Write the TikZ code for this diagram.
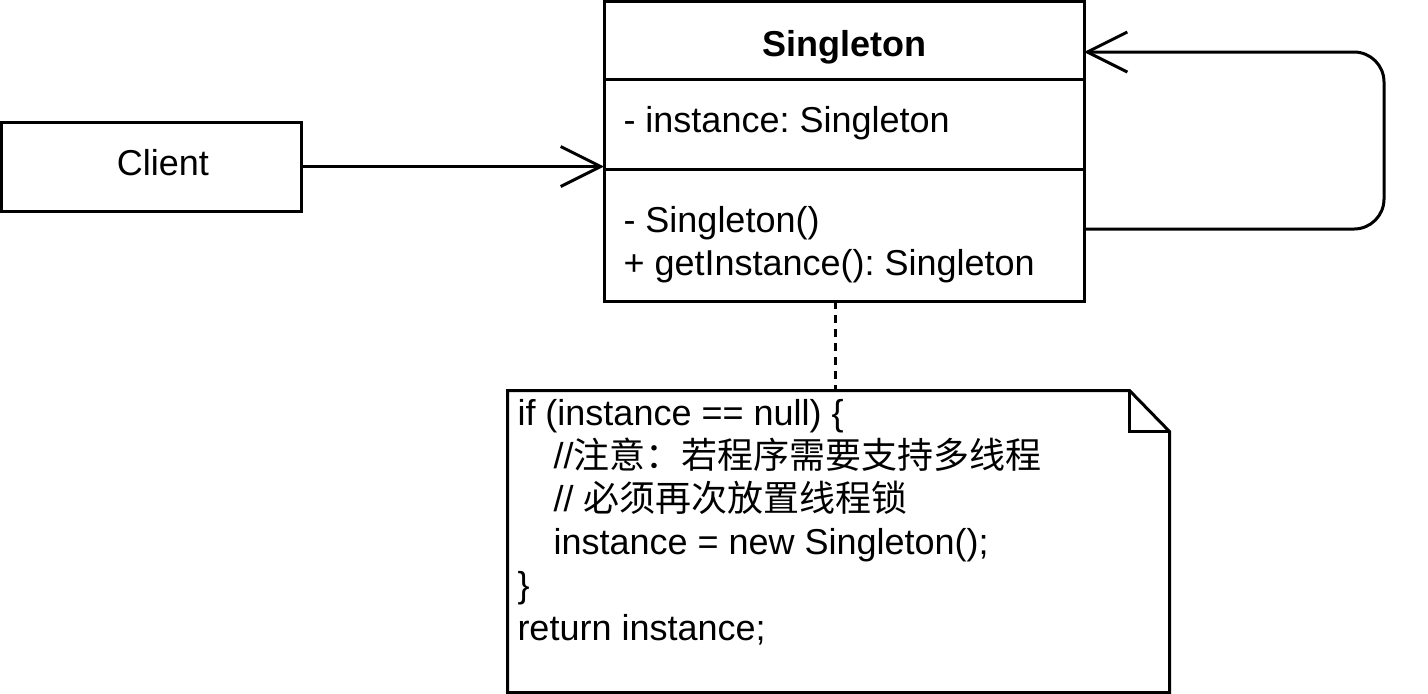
\documentclass[tikz,border=0pt]{standalone}
\usepackage{fontspec}
\setmainfont{Liberation Sans}
\newfontfamily\cjk{Noto Sans CJK SC}
\usetikzlibrary{arrows.meta,positioning,calc}
\tikzset{
  every picture/.style={line width=1.5pt, font=\fontsize{18pt}{21.5pt}\selectfont},
  box/.style={draw, inner sep=0pt, fill=white},
  part/.style={box, minimum width=240pt, outer sep=0pt},
  member/.style={anchor=base west, inner sep=0pt},
  assoc/.style={-{Straight Barb[length=20pt,width=20pt]}, line width=1.5pt},
  link/.style={dash pattern=on 4pt off 3pt, line width=1.5pt},
}
\frenchspacing
\begin{document}
\begin{tikzpicture}[x=0.5pt, y=-0.5pt]
  \useasboundingbox (0,0) rectangle (1428,693);
  % the class box, three compartments stacked
  \node[part, minimum height=39pt, text height=20pt, text depth=4pt] (stitle) at (844,40) {\bfseries Singleton};
  \node[part, minimum height=45pt, below=0pt of stitle] (sattr) {};
  \node[part, minimum height=66pt, below=0pt of sattr] (sops) {};
  \node[member] (mattr) at (622,132) {- instance: Singleton};
  \node[member] (mctor) at (622,232) {- Singleton()};
  \node[member] (mget) at (622,275) {+ getInstance(): Singleton};
  % the caller
  \node[box, minimum width=150pt, minimum height=44.5pt, text depth=4pt] (client) at (151,166.5) {\hspace*{12pt}Client};
  \draw[assoc] (client.east) -- (client.east -| sattr.west);
  \draw[assoc, rounded corners=15pt] ([yshift=3pt]sops.east) -- ++(150pt,0) |- ([yshift=-6pt]stitle.east);
  % the note with a folded corner
  \node[inner sep=0pt, minimum width=329.5pt, minimum height=149.5pt] (note) at (838.5,541.5) {};
  \draw (note.north west) -- ([xshift=-20pt]note.north east) -- ([yshift=-20.5pt]note.north east)
    -- (note.south east) -- (note.south west) -- cycle;
  \draw ([xshift=-20pt]note.north east) |- ([yshift=-20.5pt]note.north east);
  \draw[link] (sops.south -| 835,0) -- (note.north -| 835,0);
  \node[anchor=north west, inner sep=0pt, align=left] (code) at (516,398)
    {if (instance == null) \{\\
     \hspace*{1em}//{\cjk 注意：若程序需要支持多线程}\\
     \hspace*{1em}// {\cjk 必须再次放置线程锁}\\
     \hspace*{1em}instance = new Singleton();\\
     \}\\
     return instance;};
\end{tikzpicture}
\end{document}
